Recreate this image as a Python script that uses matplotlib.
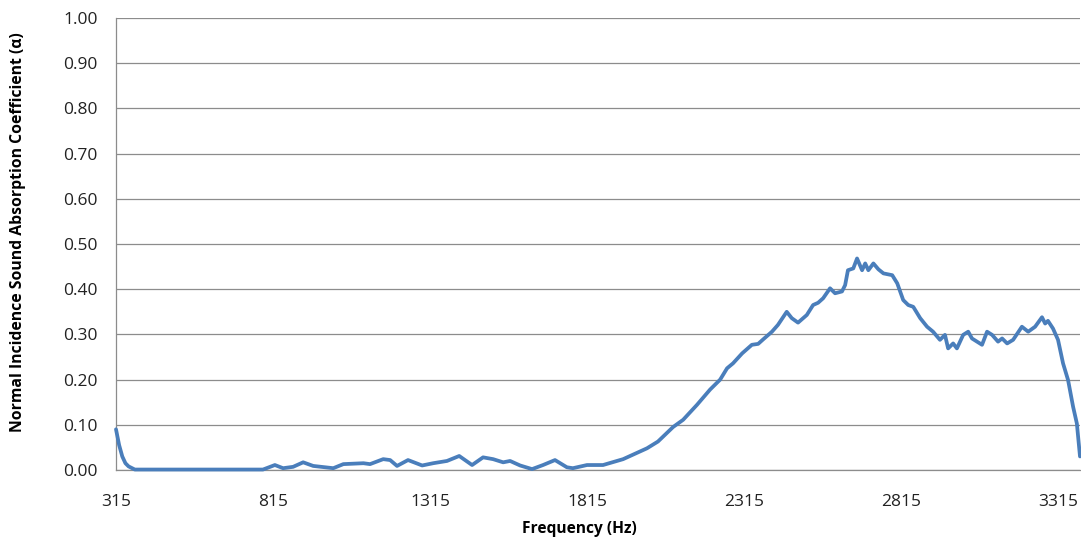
import matplotlib
matplotlib.use("Agg")
import matplotlib.pyplot as plt
import numpy as np

plt.rcParams['font.family'] = ['Open Sans', 'DejaVu Sans']

# Frequency (Hz) and normal incidence absorption coefficient
freq = [315, 325, 335, 345, 355, 375, 783,
        821, 847, 879, 911, 943, 1007, 1039, 1103, 1124, 1166, 1188, 1210,
        1245, 1290, 1325, 1369, 1408, 1449, 1484, 1516, 1548, 1570, 1602,
        1640, 1675, 1713, 1751, 1770, 1815, 1866, 1930, 2006, 2041, 2089,
        2121, 2165, 2207, 2239, 2261, 2280, 2309, 2340, 2360, 2376, 2404,
        2423, 2451, 2467, 2487, 2515, 2535, 2551, 2567, 2589, 2605, 2627,
        2637, 2646, 2663, 2675, 2691, 2701, 2711, 2727, 2743, 2759, 2787,
        2803, 2822, 2838, 2854, 2876, 2898, 2917, 2939, 2955, 2965, 2981,
        2993, 3013, 3029, 3041, 3057, 3073, 3089, 3105, 3124, 3137, 3153,
        3172, 3200, 3220, 3242, 3264, 3274, 3283, 3299, 3315, 3331, 3347,
        3363, 3375, 3385]
alpha = [0.090, 0.055, 0.030, 0.015, 0.008, 0.001, 0.001,
         0.011, 0.004, 0.007, 0.017, 0.009, 0.004, 0.013, 0.015, 0.013,
         0.024, 0.022, 0.009, 0.022, 0.010, 0.015, 0.020, 0.031, 0.011,
         0.028, 0.024, 0.017, 0.020, 0.010, 0.002, 0.011, 0.022, 0.006,
         0.004, 0.011, 0.011, 0.024, 0.048, 0.063, 0.095, 0.111, 0.144,
         0.178, 0.200, 0.225, 0.236, 0.258, 0.277, 0.279, 0.289, 0.306,
         0.321, 0.350, 0.336, 0.326, 0.343, 0.365, 0.370, 0.380, 0.402,
         0.391, 0.395, 0.409, 0.442, 0.446, 0.468, 0.442, 0.457, 0.442,
         0.457, 0.444, 0.435, 0.431, 0.413, 0.376, 0.365, 0.361, 0.336,
         0.317, 0.306, 0.288, 0.299, 0.269, 0.280, 0.269, 0.299, 0.306,
         0.291, 0.284, 0.277, 0.306, 0.299, 0.284, 0.291, 0.280, 0.288,
         0.317, 0.306, 0.317, 0.338, 0.324, 0.330, 0.313, 0.288, 0.236,
         0.199, 0.140, 0.103, 0.030]

x_ticks = [315, 815, 1315, 1815, 2315, 2815, 3315]
y_ticks = [0.0, 0.1, 0.2, 0.3, 0.4, 0.5, 0.6, 0.7, 0.8, 0.9, 1.0]

fig = plt.figure(figsize=(10.81, 5.37), dpi=100)
ax = fig.add_axes([116 / 1081, 67 / 537, 964 / 1081, 452 / 537])

ax.plot(freq, alpha, color='#4A7EBB', lw=2.7, solid_joinstyle='round',
        solid_capstyle='round', zorder=3, clip_on=False)

ax.set_xlim(315, 3385)
ax.set_ylim(0, 1.0)
ax.set_xticks(x_ticks)
ax.set_xticklabels([str(v) for v in x_ticks])
ax.set_yticks(y_ticks)
ax.set_yticklabels([f"{v:.2f}" for v in y_ticks])

ax.grid(axis='y', color='#8C8C8C', lw=0.9)
ax.set_axisbelow(True)
for side in ('top', 'right'):
    ax.spines[side].set_visible(False)
for side in ('left', 'bottom'):
    ax.spines[side].set_color('#8C8C8C')
    ax.spines[side].set_linewidth(0.9)

ax.tick_params(axis='both', length=0, labelsize=12.5, colors='#222222')
ax.tick_params(axis='y', pad=13)
ax.tick_params(axis='x', pad=17)

ax.set_xlabel('Frequency (Hz)', fontsize=11.2, fontweight='bold')
ax.set_ylabel('Normal Incidence Sound Absorption Coefficient (\u03b1)',
              fontsize=11.3, fontweight='bold')
ax.xaxis.set_label_coords(0.481, -0.113)
ax.yaxis.set_label_coords(-0.1015, 0.527)
ax.yaxis.label.set_va('center')
ax.xaxis.label.set_va('top')

fig.savefig('out.png', dpi=100)
